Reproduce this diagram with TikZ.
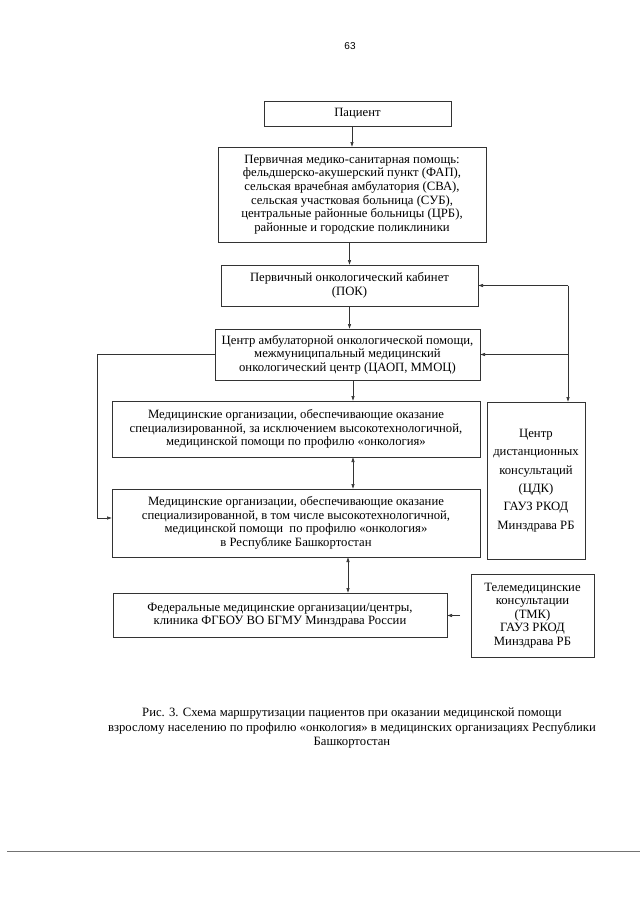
\documentclass[tikz,border=0pt]{standalone}
\usepackage{fontspec}
\setmainfont{Liberation Serif}
\newfontfamily\pagefont{Liberation Sans}
\usetikzlibrary{arrows,arrows.meta,positioning}

\begin{document}
\begin{tikzpicture}[x=1pt,y=-1pt]
\tikzstyle{box}=[draw=black!80,line width=0.7pt,align=center,inner sep=1pt,outer sep=0pt,font=\fontsize{12.7}{13.6}\selectfont]
\tikzstyle{conn}=[line width=0.6pt,black!80,-{Latex[length=5pt,width=3.5pt]}]
\tikzstyle{dconn}=[line width=0.6pt,black!80,{Latex[length=5pt,width=3.5pt]}-{Latex[length=5pt,width=3.5pt]}]
\useasboundingbox (0,0) rectangle (640,905);
\node [font=\pagefont\fontsize{10}{12}\selectfont] at (350,46) (pnum) {63};
\node [box,minimum width=187pt,minimum height=25pt] at (357.5,113.5) (pat) {Пациент};
\node [box,minimum width=268pt,minimum height=95pt] at (352,194.5) (pmsp) {Первичная медико-санитарная помощь:\\
фельдшерско-акушерский пункт (ФАП),\\
сельская врачебная амбулатория (СВА),\\
сельская участковая больница (СУБ),\\
центральные районные больницы (ЦРБ),\\
районные и городские поликлиники};
\node [box,minimum width=257pt,minimum height=41pt] at (349.5,285.5) (pok) {Первичный онкологический кабинет\\ (ПОК)};
\node [box,minimum width=265pt,minimum height=51pt] at (347.5,354.5) (caop) {Центр амбулаторной онкологической помощи,\\
межмуниципальный медицинский\\
онкологический центр (ЦАОП, ММОЦ)};
\node [box,minimum width=368pt,minimum height=56pt] at (296,429) (spec) {Медицинские организации, обеспечивающие оказание\\
специализированной, за исключением высокотехнологичной,\\
медицинской помощи по профилю «онкология»};
\node [box,minimum width=368pt,minimum height=68pt] at (296,523) (vmp) {Медицинские организации, обеспечивающие оказание\\
специализированной, в том числе высокотехнологичной,\\
медицинской помощи \ по профилю «онкология»\\
в Республике Башкортостан};
\node [box,minimum width=98pt,minimum height=157pt,font=\fontsize{12.7}{18.3}\selectfont] at (536,480.5) (cdk) {Центр\\ дистанционных\\ консультаций\\ (ЦДК)\\ ГАУЗ РКОД\\ Минздрава РБ};
\node [box,minimum width=334pt,minimum height=44pt] at (280,615) (fed) {Федеральные медицинские организации/центры,\\
клиника ФГБОУ ВО БГМУ Минздрава России};
\node [box,minimum width=123pt,minimum height=83pt] at (532.5,615.5) (tmk) {Телемедицинские\\ консультации\\ (ТМК)\\ ГАУЗ РКОД\\ Минздрава РБ};
\node [align=center,font=\fontsize{12.7}{14.5}\selectfont] at (352,728) (cap) {Рис. 3. Схема маршрутизации пациентов при оказании медицинской помощи\\
взрослому населению по профилю «онкология» в медицинских организациях Республики\\
Башкортостан};

\coordinate (mid) at (353,0);
\coordinate (mid2) at (348,0);
\coordinate (rtop) at (568,285.5);
\coordinate (cdktop) at (568,402);
\draw [conn] (pmsp.north |- pat.south) -- (pmsp.north);
\draw [conn] (pok.north |- pmsp.south) -- (pok.north);
\draw [conn] (pok.south) -- (pok.south |- caop.north);
\draw [conn] (mid |- caop.south) -- (mid |- spec.north);
\draw [dconn] (mid |- spec.south) -- (mid |- vmp.north);
\draw [dconn] (mid2 |- vmp.south) -- (mid2 |- fed.north);
\draw [conn] (caop.west) -- ++(-118,0) |- ([yshift=5pt]vmp.west);
\draw [conn] (rtop) -- (cdktop);
\draw [conn] (rtop) -- (pok.east);
\draw [conn] (rtop |- caop.east) -- (caop.east);
\draw [conn] ([xshift=-11pt]tmk.west) -- (tmk.west -| fed.east);

\draw [black!55,line width=1pt] (7,851) -- (640,851);
\end{tikzpicture}
\end{document}
